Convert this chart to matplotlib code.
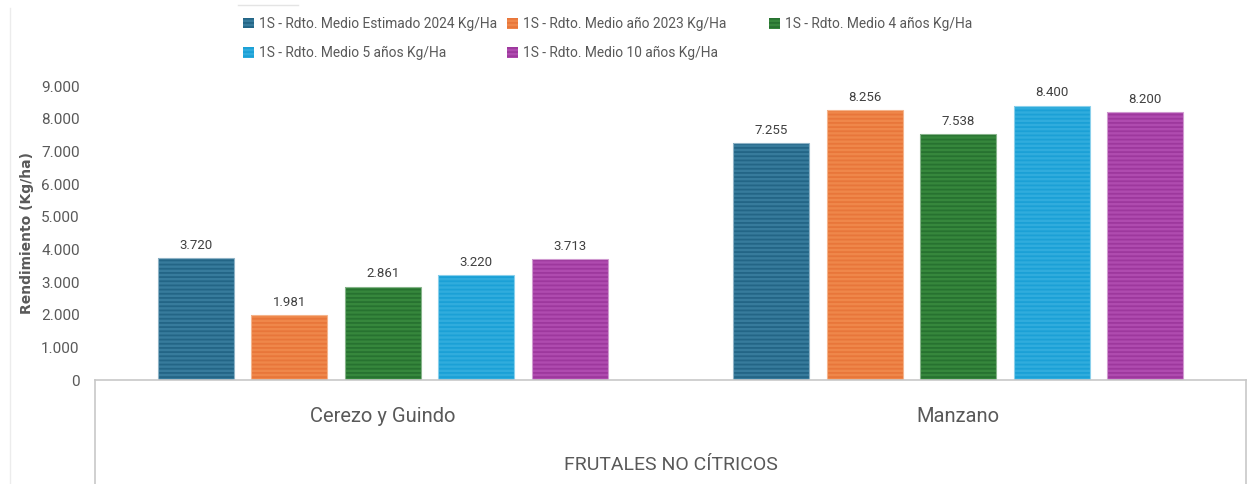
import matplotlib
matplotlib.use("Agg")
import matplotlib.pyplot as plt
from matplotlib.lines import Line2D
import numpy as np

categories = ["Cerezo y Guindo", "Manzano"]
series_names = [
    "1S - Rdto. Medio Estimado 2024 Kg/Ha",
    "1S - Rdto. Medio año 2023 Kg/Ha",
    "1S - Rdto. Medio 4 años Kg/Ha",
    "1S - Rdto. Medio 5 años Kg/Ha",
    "1S - Rdto. Medio 10 años Kg/Ha",
]
rdto_2024 = [3720, 7255]
rdto_2023 = [1981, 8256]
rdto_4 = [2861, 7538]
rdto_5 = [3220, 8400]
rdto_10 = [3713, 8200]
series_values = [rdto_2024, rdto_2023, rdto_4, rdto_5, rdto_10]
yticks = [0, 1000, 2000, 3000, 4000, 5000, 6000, 7000, 8000, 9000]
ytick_labels = ["0", "1.000", "2.000", "3.000", "4.000", "5.000", "6.000", "7.000", "8.000", "9.000"]
x_title = "FRUTALES NO CÍTRICOS"
y_title = "Rendimiento (Kg/ha)"

face_colors = ["#377b9c", "#ef874a", "#36873c", "#30acdd", "#af4baf"]
stripe_colors = ["#236586", "#e8763a", "#277230", "#1ba0d6", "#9d389d"]
edge_colors = ["#8fb3c6", "#f4b48c", "#86b48a", "#8ad0ec", "#d09ad0"]

NARROW = ["Roboto", "DejaVu Sans"]
TXT = "#595959"
plt.rcParams["hatch.linewidth"] = 1.3

fig = plt.figure(figsize=(12.54, 4.84), dpi=100)
ax = fig.add_axes([95 / 1254, 1 - 380 / 484, (1246 - 95) / 1254, (380 - 86) / 484])

x = np.arange(len(categories))
step = 0.1623
width = 0.132
handles = []
for i, (name, vals) in enumerate(zip(series_names, series_values)):
    pos = x + (i - 2) * step
    b = ax.bar(pos, vals, width, color=face_colors[i], edgecolor=stripe_colors[i],
               linewidth=0, hatch="----", label=name)
    ax.bar(pos, vals, width, fill=False, edgecolor=edge_colors[i], linewidth=0.8)
    handles.append(b)
    for px, v in zip(pos, vals):
        ax.text(px, v + 190, f"{v/1000:.3f}", ha="center", va="bottom",
                fontsize=9.5, color="#404040", family=NARROW)

ax.set_xlim(-0.5, 1.5)
ax.set_ylim(0, 9000)
ax.set_yticks(yticks)
ax.set_yticklabels(ytick_labels, family=NARROW, fontsize=11, color=TXT)
ax.tick_params(axis="y", length=0, pad=11)
ax.set_xticks([])
for s in ["left", "top", "right"]:
    ax.spines[s].set_visible(False)
ax.spines["bottom"].set_color("#c8c8c8")
ax.spines["bottom"].set_linewidth(1.2)

# category box below the axis
for xf in [95 / 1254, 1246 / 1254]:
    fig.add_artist(Line2D([xf, xf], [0, 1 - 380 / 484], color="#c8c8c8", lw=1.2))
for xi, cat in zip(x, categories):
    xf = (95 + (xi + 0.5) * 575.5) / 1254
    fig.text(xf, 1 - 417 / 484, cat, ha="center", va="center", fontsize=14.5,
             color=TXT, family=NARROW)
fig.text((95 + 1246) / 2 / 1254, 1 - 465 / 484, x_title, ha="center", va="center",
         fontsize=14, color=TXT, family=NARROW)

fig.text(27 / 1254, 1 - 233 / 484, y_title, rotation=90, ha="center", va="center",
         fontsize=10, fontweight="bold", color=TXT, family=["DejaVu Sans"])

# faint outer chart border
fig.add_artist(Line2D([10 / 1254, 10 / 1254], [0, 1 - 8 / 484], color="#ececec", lw=1))
fig.add_artist(Line2D([238 / 1254, 298 / 1254], [1 - 5 / 484, 1 - 5 / 484], color="#e4e4e4", lw=1))

# legend entries in a uniform grid (row-wise, like the original)
leg_x = [243, 507, 769, 243, 507]
leg_y = [24, 24, 24, 53, 53]
for h, name, lx, ly in zip(handles, series_names, leg_x, leg_y):
    leg = fig.legend(handles=[h], labels=[name], loc="center left",
                     bbox_to_anchor=(lx / 1254, 1 - ly / 484), frameon=False,
                     prop={"family": NARROW, "size": 9.9}, handlelength=0.8,
                     handleheight=0.8, handletextpad=0.35, borderpad=0, borderaxespad=0)
    for t in leg.get_texts():
        t.set_color(TXT)

fig.savefig("out.png", dpi=100)
